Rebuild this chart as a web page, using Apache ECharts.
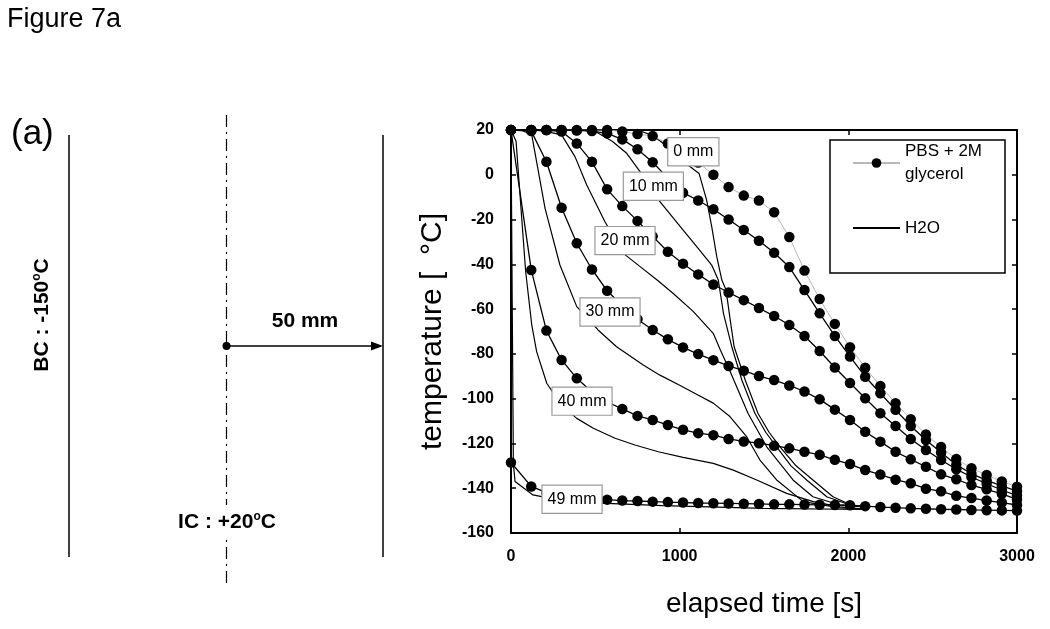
<!DOCTYPE html>
<html>
<head>
<meta charset="utf-8">
<script src="https://cdn.jsdelivr.net/npm/echarts@6/dist/echarts.min.js"></script>
<style>html,body{margin:0;padding:0;background:#fff}#c{width:1050px;height:629px}</style>
</head>
<body>
<div id="c"></div>
<script>
// ---------- data ----------
// PBS + 2M glycerol: sample times [s]
const times = [0,120,210,300,390,480,570,660,750,840,930,1020,1110,1200,1290,1380,1470,1560,1650,1740,1830,1920,2010,2100,2190,2280,2370,2460,2550,2640,2730,2820,2910,3000];
const gly0  = [20,20,20,20,20,20,20,19.3,18.2,17.3,14,10,5.5,0,-5.5,-9.3,-11.5,-16.7,-27.8,-42.8,-55.5,-66.6,-77,-86.2,-94.3,-102,-109.2,-116,-121.6,-126.9,-131.1,-134.1,-137,-139.3];
const gly10 = [20,20,20,20,19.8,19.5,18.5,15.8,11.4,5.6,-1.5,-8,-11.5,-15.4,-20,-24.7,-29.5,-34.8,-41.2,-51.5,-61.9,-72,-81.2,-90.2,-97.6,-105,-112.2,-118.5,-124,-129.5,-133.5,-136.5,-139,-141.3];
const gly20 = [20,20,20,19.3,14,5.8,-6.5,-14,-20.6,-27.5,-34.4,-39.7,-44.5,-49,-52.6,-56,-59.5,-63.1,-67.1,-72,-78.7,-86.1,-93,-99.8,-106.5,-112.2,-118,-122.9,-127.4,-131.5,-135,-138,-140.8,-143.3];
const gly30 = [20,19.5,5.8,-14.7,-30.6,-42.3,-51.8,-58.5,-64.5,-69.3,-73.5,-77.1,-80.1,-82.8,-85.4,-87.5,-89.9,-91.7,-94.1,-96.8,-100.3,-104.9,-109.5,-114.8,-119.2,-123.7,-127.1,-130.4,-133.8,-136,-138.6,-140.5,-142.5,-145];
const gly40 = [20,-42.5,-69.6,-82.7,-90.9,-97,-101.5,-104.6,-107.7,-109.5,-111.8,-113.9,-115.4,-116.3,-118,-119.1,-119.9,-121,-122.2,-123.7,-125.1,-127.3,-129.2,-131.9,-133.9,-136.2,-137.8,-140.2,-141.4,-143.4,-144.4,-145.5,-146.4,-147.5];
const gly49 = [-128.5,-139.2,-142,-143.5,-144.3,-144.8,-145.1,-145.5,-145.7,-146,-146.2,-146.4,-146.6,-146.7,-146.8,-146.9,-147,-147.2,-147.2,-147.3,-147.4,-147.5,-147.6,-148,-148.4,-148.7,-149,-149.2,-149.4,-149.5,-149.7,-149.8,-149.9,-150];

// H2O curves (time, temperature)
const h2o0T  = [0,600,760,840,930,1020,1115,1160,1190,1220,1250,1275,1300,1323,1390,1464,1530,1595,1690,1790,1909,2010,2100];
const h2o0V  = [20,20,19.8,17.5,12.5,6,0.6,-11.3,-23.2,-36.6,-47,-51.5,-65,-76.8,-92,-106.5,-115,-121.5,-130,-136.3,-143.8,-147.3,-148.5];
const h2o10T = [0,420,508,600,686,765,883,1000,1100,1190,1229,1260,1309,1370,1446,1510,1575,1660,1753,1872,2010,2100];
const h2o10V = [20,20,19,15,9.6,1.4,-12,-22.8,-32,-40.3,-47,-62,-76.8,-92,-106.5,-115,-121.5,-130,-136.3,-143.8,-147.5,-148.5];
const h2o20T = [0,120,200,300,380,449,557,666,760,870,962,1080,1199,1240,1300,1405,1516,1672,1790,1950,2100];
const h2o20V = [20,20,19.5,17.8,8,-4.6,-21,-35.1,-40.7,-47.2,-53,-61,-70.8,-78,-88,-106.5,-121.5,-136.3,-143.8,-147.5,-148.5];
const h2o30T = [0,60,123,202,290,390,516,626,784,883,1000,1100,1199,1298,1397,1476,1575,1733,1950,2100];
const h2o30V = [20,20,17.8,-15,-40.3,-58.9,-69.3,-76.8,-85,-89.5,-94,-98,-102,-108,-117,-127.4,-136.3,-146,-148.8,-149.2];
const h2o40T = [0,30,87,123,152,212,300,390,488,617,735,873,1020,1199,1318,1457,1634,1792,1950,2100];
const h2o40V = [20,15,-43.3,-67,-79,-93.1,-103,-108.8,-113.2,-117.7,-120.7,-123.7,-126.2,-128.9,-131.9,-136.3,-142.3,-146,-148.3,-149.4];
const h2o49T = [0,14,24,130,300,530,900,1500,2100];
const h2o49V = [20,-129,-137,-143,-145.5,-146.7,-147.8,-149,-149.5];

// axis ticks
const xTicks = [0,1000,2000,3000];
const yTicks = [-160,-140,-120,-100,-80,-60,-40,-20,0,20];
const depthLabels = ['0 mm','10 mm','20 mm','30 mm','40 mm','49 mm'];

// ---------- chart ----------
const FF = '"Liberation Sans", Arial, Helvetica, sans-serif';
const GLY = 'PBS + 2M glycerol';
const chart = echarts.init(document.getElementById('c'), null, {renderer:'canvas'});

const zip = (xs, ys) => xs.map((x, i) => [x, ys[i]]);
const glySets = [gly0, gly10, gly20, gly30, gly40, gly49];
const h2oSets = [[h2o0T,h2o0V],[h2o10T,h2o10V],[h2o20T,h2o20V],[h2o30T,h2o30V],[h2o40T,h2o40V],[h2o49T,h2o49V]];

const series = [];
h2oSets.forEach(([t, v]) => series.push({
  name: 'H2O', type: 'line', data: zip(t, v), symbol: 'none',
  lineStyle: {color: '#000', width: 1.2}, itemStyle:{color:'#000'}, z: 2
}));
glySets.forEach((v, i) => series.push({
  name: GLY, type: 'line', data: zip(times, v), symbol: 'circle', symbolSize: 10.5,
  itemStyle: {color: '#000'},
  lineStyle: {color: i === 0 ? '#b8b8b8' : '#000', width: i === 0 ? 1 : 1.3},
  z: i === 0 ? 3 : 4
}));

const axisCommon = {
  type: 'value', splitLine: {show: false},
  axisLine: {show: true, onZero: false, lineStyle: {color: '#000', width: 2}},
  axisTick: {show: true, inside: true, length: 5, lineStyle: {color: '#000', width: 1.5}}
};
const labelStyle = {color: '#000', fontWeight: 'bold', fontSize: 16, fontFamily: FF, formatter: v => String(v)};

const option = {
  animation: false,
  backgroundColor: '#fff',
  grid: {left: 511, top: 130, width: 506, height: 403, containLabel: false},
  xAxis: [
    Object.assign({}, axisCommon, {
      position: 'bottom', min: xTicks[0], max: xTicks[xTicks.length-1], interval: xTicks[1]-xTicks[0],
      axisLabel: Object.assign({margin: 16}, labelStyle),
      name: 'elapsed time [s]', nameLocation: 'middle', nameGap: 57,
      nameTextStyle: {fontSize: 28, fontFamily: FF, color: '#000'}
    }),
    Object.assign({}, axisCommon, {
      position: 'top', min: xTicks[0], max: xTicks[xTicks.length-1], interval: xTicks[1]-xTicks[0],
      axisLabel: {show: false}
    })
  ],
  yAxis: [
    Object.assign({}, axisCommon, {
      position: 'left', min: yTicks[0], max: yTicks[yTicks.length-1], interval: yTicks[1]-yTicks[0],
      axisLabel: Object.assign({margin: 17}, labelStyle),
      name: 'temperature [  °C]', nameLocation: 'middle', nameGap: 63,
      nameTextStyle: {fontSize: 30, fontFamily: FF, color: '#000'}
    }),
    Object.assign({}, axisCommon, {
      position: 'right', min: yTicks[0], max: yTicks[yTicks.length-1], interval: yTicks[1]-yTicks[0],
      axisLabel: {show: false}
    })
  ],
  legend: {
    orient: 'vertical', left: 852, top: 128.5, padding: 0,
    itemWidth: 47, itemHeight: 12, itemGap: 19, selectedMode: false,
    data: [
      {name: GLY, textStyle: {padding: [23, 0, 0, 0]}},
      {name: 'H2O', itemStyle: {opacity: 0}}
    ],
    formatter: n => n === GLY ? 'PBS + 2M\nglycerol' : n,
    textStyle: {fontSize: 17, lineHeight: 23, color: '#000', fontFamily: FF},
    z: 6
  },
  series: series
};
chart.setOption(option);

// ---------- annotations ----------
const dash = {stroke: '#000', lineWidth: 1.5};
const boldRich = {
  b: {fontSize: 21, fontWeight: 'bold', fontFamily: FF, fill: '#000'},
  s: {fontSize: 12, fontWeight: 'bold', fontFamily: FF, fill: '#000', padding: [0, 0, 10, 0]}
};
const graphics = [
  {type: 'text', x: 7, y: 6, style: {text: 'Figure 7a', fontSize: 27, fontFamily: FF, fill: '#000', verticalAlign: 'top'}},
  {type: 'text', x: 11, y: 134, style: {text: '(a)', fontSize: 35, fontFamily: FF, fill: '#000', verticalAlign: 'middle'}},
  {type: 'line', shape: {x1: 69, y1: 135, x2: 69, y2: 557}, style: dash},
  {type: 'line', shape: {x1: 383, y1: 135, x2: 383, y2: 557}, style: dash},
  {type: 'line', shape: {x1: 226.5, y1: 115, x2: 226.5, y2: 587}, style: {stroke: '#000', lineWidth: 1.2, lineDash: [12, 5, 2, 5]}},
  {type: 'line', shape: {x1: 226.5, y1: 346, x2: 374, y2: 346}, style: dash},
  {type: 'polygon', shape: {points: [[383, 346], [371, 341.5], [371, 350.5]]}, style: {fill: '#000'}},
  {type: 'circle', shape: {cx: 226.5, cy: 346, r: 4}, style: {fill: '#000'}},
  {type: 'text', x: 305, y: 321, style: {text: '50 mm', fontSize: 21, fontWeight: 'bold', fontFamily: FF, fill: '#000', align: 'center', verticalAlign: 'middle'}},
  {type: 'text', x: 227, y: 522, z: 5, style: {text: '{b|IC : +20}{s|o}{b|C}', rich: boldRich, align: 'center', verticalAlign: 'middle', backgroundColor: '#fff', padding: [6, 2, 6, 2]}},
  {type: 'text', x: 42, y: 315, rotation: Math.PI / 2, style: {text: '{b|BC : -150}{s|o}{b|C}', rich: boldRich, align: 'center', verticalAlign: 'middle'}},
  {type: 'rect', z: 5, shape: {x: 830, y: 140, width: 175, height: 133}, style: {fill: '#fff', stroke: '#000', lineWidth: 1.5}}
];

// depth labels, anchored in data coordinates
const labelAnchors = [[1081, 10.3], [844, -5.1], [676, -29.4], [587, -61.3], [421, -101.1], [362, -144.9]];
depthLabels.forEach((txt, i) => {
  const p = chart.convertToPixel({gridIndex: 0}, labelAnchors[i]);
  graphics.push({
    type: 'text', x: p[0], y: p[1], z: 20,
    style: {text: txt, fontSize: 16, fontFamily: FF, fill: '#000', align: 'center', verticalAlign: 'middle',
      backgroundColor: '#fff', borderColor: '#9a9a9a', borderWidth: 1.2, padding: [6, 5, 5, 5]}
  });
});
chart.setOption({graphic: graphics});
</script>
</body>
</html>
